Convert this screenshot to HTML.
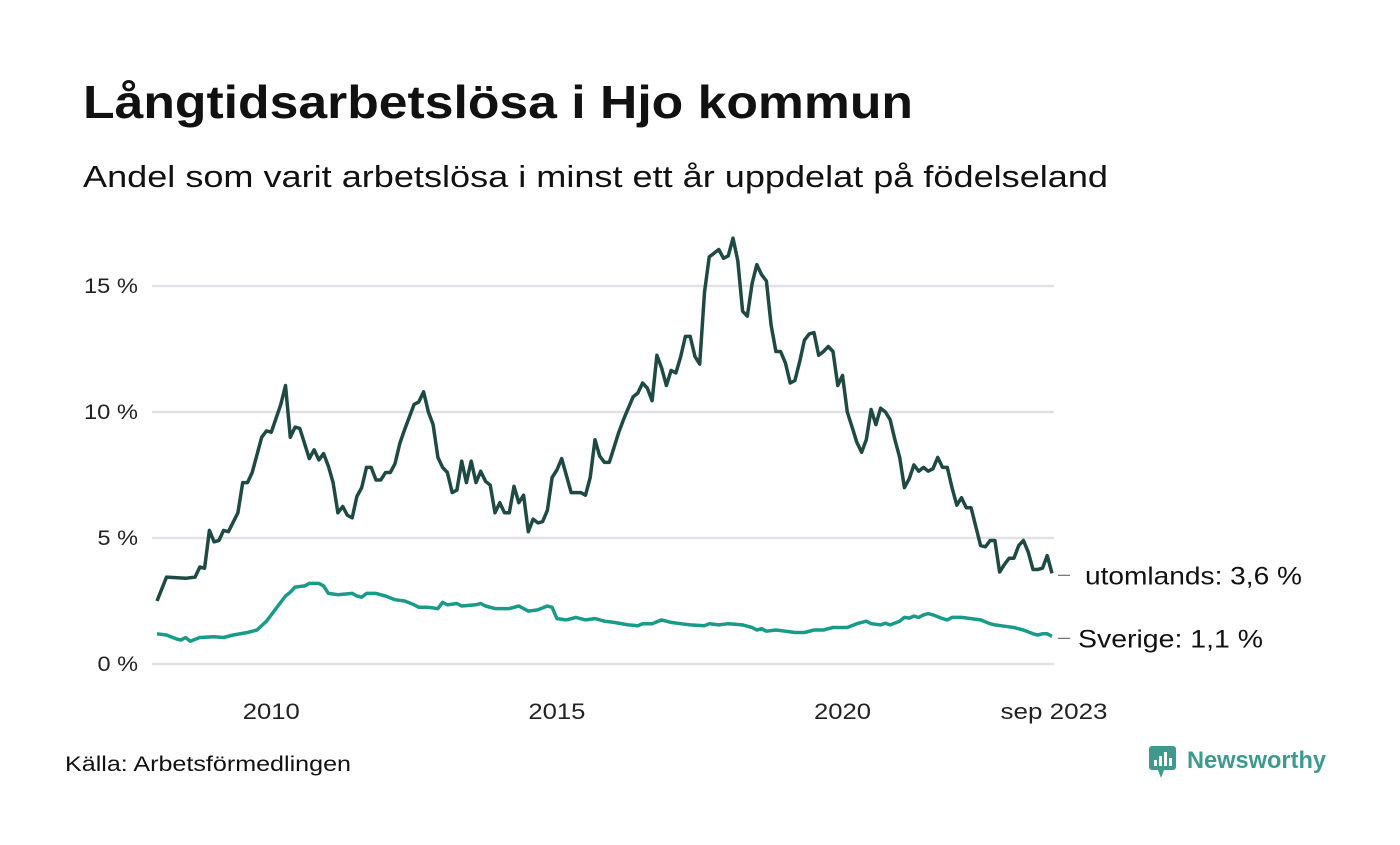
<!DOCTYPE html>
<html><head><meta charset="utf-8">
<style>
body{margin:0;background:#fff;width:1400px;height:840px;overflow:hidden;font-family:"Liberation Sans","DejaVu Sans",sans-serif;color:#111;}
</style></head>
<body>
<svg id="chart" width="1400" height="840" xmlns="http://www.w3.org/2000/svg">
<text x="83" y="118" font-size="46" font-weight="bold" fill="#111" textLength="830" lengthAdjust="spacingAndGlyphs">Långtidsarbetslösa i Hjo kommun</text>
<text x="83" y="187" font-size="31" fill="#111" textLength="1025" lengthAdjust="spacingAndGlyphs">Andel som varit arbetslösa i minst ett år uppdelat på födelseland</text>
<g id="grid"></g>
<g id="yaxis"></g>
<g id="xaxis"></g>
<g id="series"></g>
<text x="65" y="771" font-size="21" fill="#111" textLength="286" lengthAdjust="spacingAndGlyphs">Källa: Arbetsförmedlingen</text>
<g>
<rect x="1149" y="746" width="27" height="24" rx="3" fill="#3d9a8c"/>
<polygon points="1158,770 1164,770 1161,778" fill="#3d9a8c"/>
<rect x="1154" y="760" width="3" height="6" fill="#fff"/><rect x="1159" y="756" width="3" height="10" fill="#fff"/><rect x="1164" y="752" width="3" height="14" fill="#fff"/><rect x="1169" y="758" width="3" height="8" fill="#fff"/>
<text x="1187" y="768" font-size="24" font-weight="bold" fill="#3d9a8c" textLength="139" lengthAdjust="spacingAndGlyphs">Newsworthy</text>
</g>
</svg>
<script>
const yTicks=[0,5,10,15];
const yTickLabels=["0 %","5 %","10 %","15 %"];
const xTickYears=[2010,2015,2020];
const xTickLabels=["2010","2015","2020","sep 2023"];
const foreignMonths=[0,2,6,8,9,10,11,12,13,14,15,17,18,19,20,22,23,24,26,27,28,29,30,32,33,34,35,36,37,38,39,40,41,42,43,44,45,46,47,48,49,50,51,52,54,55,56,57,58,59,60,61,62,63,64,65,66,67,68,69,70,71,72,73,74,75,76,77,78,79,80,81,82,83,84,85,87,89,90,91,92,93,94,95,97,98,99,100,101,102,103,104,105,106,107,108,109,110,111,112,113,114,115,116,117,118,119,120,121,122,123,124,125,126,127,128,129,130,131,132,133,134,135,136,137,138,139,140,141,142,143,144,145,146,147,148,149,150,151,152,153,154,155,156,157,158,159,160,161,162,163,164,165,166,167,168,169,170,171,173,174,175,176,177,178,179,180,181,182,183,184,185,186,187,188];
const foreignValues=[2.5,3.45,3.4,3.45,3.85,3.8,5.3,4.85,4.9,5.3,5.25,6.0,7.2,7.2,7.6,9.0,9.25,9.2,10.3,11.05,9.0,9.4,9.35,8.15,8.5,8.1,8.35,7.85,7.2,6.0,6.25,5.9,5.8,6.65,7.0,7.8,7.8,7.3,7.3,7.6,7.6,7.95,8.75,9.3,10.3,10.4,10.8,10.0,9.5,8.2,7.8,7.6,6.8,6.9,8.05,7.2,8.05,7.2,7.65,7.25,7.1,6.0,6.4,6.0,6.0,7.05,6.4,6.7,5.25,5.75,5.6,5.65,6.1,7.4,7.7,8.15,6.8,6.8,6.7,7.4,8.9,8.25,8.0,8.0,9.2,9.7,10.15,10.6,10.75,11.15,10.95,10.45,12.25,11.75,11.05,11.65,11.55,12.2,13.0,13.0,12.2,11.9,14.75,16.15,16.3,16.45,16.1,16.2,16.9,16.0,14.0,13.8,15.1,15.85,15.45,15.2,13.45,12.4,12.4,11.95,11.15,11.25,12.0,12.85,13.1,13.15,12.25,12.4,12.6,12.4,11.05,11.45,10.0,9.4,8.8,8.4,8.9,10.1,9.5,10.15,10.0,9.7,8.9,8.2,7.0,7.35,7.9,7.65,7.8,7.65,7.75,8.2,7.8,7.8,7.0,6.3,6.6,6.2,6.2,4.7,4.65,4.9,4.9,3.65,3.95,4.2,4.2,4.7,4.9,4.45,3.75,3.75,3.8,4.3,3.6];
const swedenMonths=[0,2,4,5,6,7,9,12,14,16,19,21,23,25,27,28,29,31,32,34,35,36,38,41,42,43,44,46,48,50,52,54,55,57,59,60,61,63,64,67,68,69,71,74,76,77,78,80,82,83,84,86,88,90,92,94,96,99,101,102,104,106,108,110,112,115,116,118,120,123,125,126,127,128,130,132,134,136,138,140,141,142,145,147,149,150,152,153,154,156,157,158,159,160,161,162,163,165,166,167,169,171,173,175,176,178,180,182,184,185,186,187,188];
const swedenValues=[1.2,1.15,1.0,0.95,1.05,0.9,1.05,1.08,1.05,1.15,1.25,1.35,1.7,2.2,2.7,2.85,3.05,3.1,3.2,3.2,3.1,2.8,2.75,2.8,2.7,2.65,2.8,2.8,2.7,2.55,2.5,2.35,2.25,2.25,2.2,2.45,2.35,2.4,2.3,2.35,2.4,2.3,2.2,2.2,2.3,2.2,2.1,2.15,2.3,2.25,1.8,1.75,1.85,1.75,1.8,1.7,1.65,1.55,1.52,1.6,1.6,1.75,1.65,1.6,1.55,1.52,1.6,1.55,1.6,1.55,1.45,1.35,1.4,1.3,1.35,1.3,1.25,1.25,1.35,1.35,1.4,1.45,1.45,1.6,1.7,1.6,1.55,1.62,1.55,1.7,1.85,1.82,1.9,1.85,1.95,2.0,1.95,1.8,1.75,1.85,1.85,1.8,1.75,1.6,1.55,1.5,1.45,1.35,1.2,1.15,1.2,1.2,1.1];
const endLabels=["utomlands: 3,6 %","Sverige: 1,1 %"];

const NS="http://www.w3.org/2000/svg";
const X0=157,X1=1052,M1=188,Y0=664,PPU=25.2;
function xScale(m){return X0+m*(X1-X0)/M1;}
function yScale(v){return Y0-v*PPU;}
function mk(tag,attrs,parent){const e=document.createElementNS(NS,tag);for(const k in attrs)e.setAttribute(k,attrs[k]);parent.appendChild(e);return e;}
const grid=document.getElementById('grid'),ya=document.getElementById('yaxis'),xa=document.getElementById('xaxis'),ser=document.getElementById('series');
yTicks.forEach((t,i)=>{
  const l=mk('line',{x1:152,x2:1054,y1:yScale(t),y2:yScale(t),stroke:'#e2e1e5','stroke-width':2.5},grid);
  
  
  const tx=mk('text',{x:138,y:yScale(t)+7,'font-size':21,'text-anchor':'end',fill:'#222'},ya);
  tx.textContent=yTickLabels[i];
  tx.setAttribute('textLength',yTickLabels[i].length*13.5);
  tx.setAttribute('lengthAdjust','spacingAndGlyphs');
  
  
});
xTickYears.forEach((yr,i)=>{
  const tx=mk('text',{x:xScale((yr-2008)*12),y:719,'font-size':22,'text-anchor':'middle',fill:'#222',textLength:57,lengthAdjust:'spacingAndGlyphs'},xa);
  tx.textContent=xTickLabels[i];
  
  
});
const lastTx=mk('text',{x:xScale(M1)+2,y:719,'font-size':22,'text-anchor':'middle',fill:'#222',textLength:107,lengthAdjust:'spacingAndGlyphs'},xa);
lastTx.textContent=xTickLabels[3];


function drawLine(ms,vs,color,name,label,lw,tx){
  const d=ms.map((m,i)=>(i?'L':'M')+xScale(m).toFixed(1)+','+yScale(vs[i]).toFixed(1)).join('');
  const p=mk('path',{d:d,fill:'none',stroke:color,'stroke-width':3.5,'stroke-linejoin':'round'},ser);
  
  
  const ty=yScale(vs[vs.length-1])+2;
  mk('line',{x1:1058,x2:1070,y1:ty,y2:ty,stroke:'#555','stroke-width':1},ser);
  const t=mk('text',{x:tx,y:ty+9,'font-size':25,fill:'#111',textLength:lw,lengthAdjust:'spacingAndGlyphs'},ser);
  t.textContent=label;
  
  
}
drawLine(foreignMonths,foreignValues,'#1f4a44','line-utomlands',endLabels[0],217,1085);
drawLine(swedenMonths,swedenValues,'#1a9a88','line-sverige',endLabels[1],185,1078);
</script>
</body></html>
